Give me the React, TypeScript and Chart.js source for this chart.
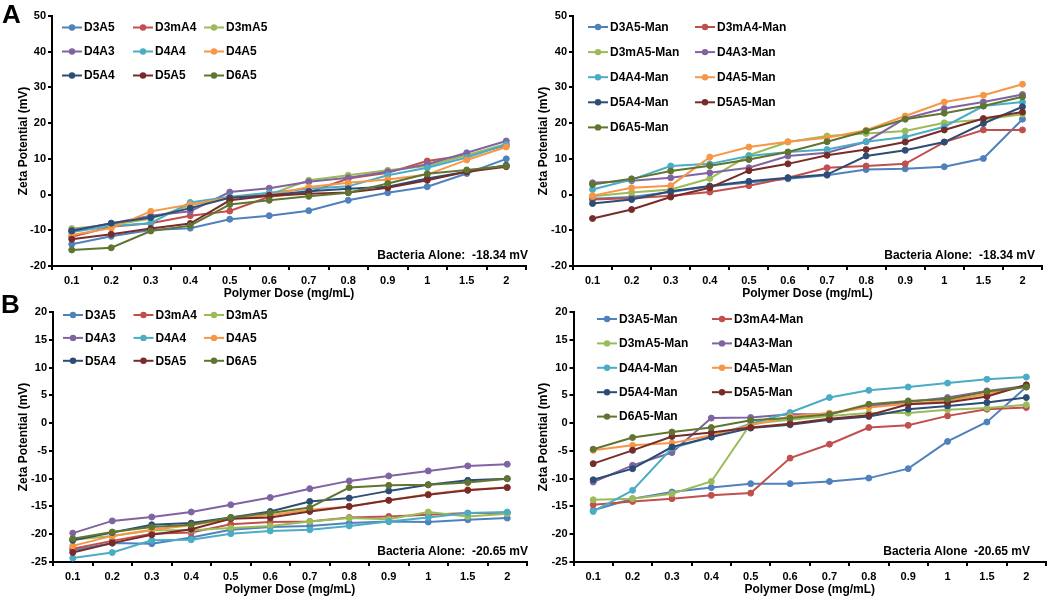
import React, { useEffect, useRef } from 'react';
import { Chart, registerables } from 'chart.js';

Chart.register(...registerables);

const FONT = "'Liberation Sans', Arial, Helvetica, sans-serif";

// X categories: polymer dose (mg/mL)
const doses = ['0.1', '0.2', '0.3', '0.4', '0.5', '0.6', '0.7', '0.8', '0.9', '1', '1.5', '2'];

// Series names
const polymerNames = ['D3A5', 'D3mA4', 'D3mA5', 'D4A3', 'D4A4', 'D4A5', 'D5A4', 'D5A5', 'D6A5'];
const manNames = ['D3A5-Man', 'D3mA4-Man', 'D3mA5-Man', 'D4A3-Man', 'D4A4-Man', 'D4A5-Man', 'D5A4-Man', 'D5A5-Man', 'D6A5-Man'];

const seriesColors = ['#4F81BD', '#C0504D', '#9BBB59', '#8064A2', '#4BACC6', '#F79646', '#2C4D75', '#772C2A', '#5F7530'];

// Y tick ranges
const yTicksA = { min: -20, max: 50, step: 10 };
const yTicksB = { min: -25, max: 20, step: 5 };

// Panel A, left: polymers alone (zeta potential, mV), rows follow polymerNames
const panelALeft = [
  [-13.9, -11.7, -9.9, -9.4, -6.9, -5.9, -4.5, -1.6, 0.5, 2.2, 5.9, 10.0],
  [-11.8, -9.0, -8.0, -5.9, -4.6, -0.6, 0.6, 4.5, 6.1, 9.4, 11.0, 13.7],
  [-9.5, -8.5, -6.8, -3.0, -0.9, 0.0, 4.0, 5.4, 6.8, 8.0, 11.0, 14.2],
  [-10.0, -8.1, -5.9, -4.7, 0.7, 1.8, 3.6, 4.7, 6.4, 8.5, 11.7, 15.0],
  [-10.5, -8.8, -8.0, -2.2, -0.6, 0.5, 1.6, 2.3, 5.4, 7.5, 10.4, 14.0],
  [-11.3, -9.4, -4.7, -2.8, -0.9, -0.1, 2.1, 3.3, 4.2, 5.6, 9.7, 13.3],
  [-10.2, -8.0, -6.4, -3.8, -0.9, -0.2, 0.9, 1.6, 2.2, 4.5, 6.4, 8.2],
  [-12.5, -11.1, -9.5, -8.1, -1.6, -0.3, 0.2, 0.6, 1.9, 4.0, 6.4, 7.8],
  [-15.5, -14.9, -10.2, -8.7, -2.8, -1.6, -0.5, 0.5, 3.1, 5.8, 6.9, 8.0],
];

// Panel A, right: mannose conjugates, rows follow manNames
const panelARight = [
  [-1.2, -0.7, 0.7, 2.3, 3.4, 4.4, 5.4, 7.0, 7.2, 7.8, 10.1, 21.1],
  [-1.4, -1.0, -0.3, 0.7, 2.5, 4.7, 7.5, 8.0, 8.6, 14.7, 18.1, 18.1],
  [-0.5, 0.6, 1.4, 4.5, 11.0, 14.7, 16.4, 17.1, 17.8, 20.1, 21.0, 22.5],
  [3.3, 3.9, 4.7, 6.1, 7.5, 10.8, 11.7, 14.8, 21.3, 24.1, 25.9, 28.0],
  [1.4, 4.2, 8.0, 8.6, 10.8, 11.9, 12.6, 14.8, 16.1, 19.0, 24.8, 25.9],
  [-0.3, 1.9, 2.5, 10.5, 13.3, 14.8, 15.9, 18.0, 22.0, 25.9, 27.8, 30.9],
  [-2.5, -1.4, 0.9, 2.4, 3.7, 4.7, 5.6, 10.8, 12.4, 14.7, 19.9, 24.6],
  [-6.7, -4.2, -0.7, 1.9, 6.7, 8.6, 11.0, 12.6, 14.7, 18.1, 21.3, 23.1],
  [2.8, 4.4, 6.6, 8.1, 9.8, 11.9, 14.8, 17.8, 21.1, 22.8, 24.8, 27.4],
];

// Panel B, left
const panelBLeft = [
  [-22.9, -21.6, -21.7, -20.6, -19.2, -18.7, -18.5, -18.0, -17.7, -17.8, -17.4, -17.1],
  [-22.6, -21.2, -19.9, -19.7, -18.2, -17.8, -17.7, -17.0, -16.8, -16.5, -16.2, -16.2],
  [-21.0, -20.3, -19.3, -19.3, -18.9, -18.5, -17.7, -17.1, -17.3, -16.0, -16.8, -16.3],
  [-19.8, -17.6, -16.9, -16.0, -14.7, -13.4, -11.8, -10.4, -9.5, -8.6, -7.7, -7.4],
  [-24.3, -23.3, -21.1, -21.0, -19.9, -19.4, -19.2, -18.5, -17.7, -17.0, -16.2, -16.0],
  [-22.1, -20.3, -19.2, -18.4, -17.2, -16.6, -15.6, -15.0, -13.9, -12.8, -12.0, -11.6],
  [-21.1, -19.7, -18.3, -18.0, -17.0, -15.9, -14.1, -13.5, -12.2, -11.1, -10.3, -10.0],
  [-23.3, -21.6, -20.1, -19.1, -17.2, -17.0, -15.9, -15.0, -13.9, -12.9, -12.1, -11.6],
  [-20.8, -19.6, -18.7, -18.3, -17.0, -16.2, -15.2, -11.6, -11.2, -11.1, -10.7, -10.0],
];

// Panel B, right
const panelBRight = [
  [-15.7, -13.6, -12.4, -11.6, -10.9, -10.9, -10.5, -9.9, -8.2, -3.3, 0.2, 6.5],
  [-14.7, -14.1, -13.6, -13.0, -12.6, -6.3, -3.8, -0.8, -0.4, 1.3, 2.5, 2.8],
  [-13.8, -13.6, -12.7, -10.5, -0.1, 0.6, 1.3, 1.8, 1.8, 2.4, 2.7, 3.3],
  [-10.6, -7.6, -5.3, 0.9, 1.0, 1.6, 1.6, 3.1, 3.8, 4.6, 5.8, 6.7],
  [-15.9, -12.1, -4.5, -2.5, -0.1, 1.9, 4.6, 5.9, 6.5, 7.2, 7.9, 8.3],
  [-4.9, -4.0, -3.6, -2.2, -0.4, 1.2, 1.8, 2.8, 3.5, 4.0, 5.3, 6.6],
  [-10.2, -8.2, -4.3, -2.5, -0.9, -0.3, 0.6, 1.2, 2.5, 3.1, 3.7, 4.6],
  [-7.3, -4.9, -2.4, -1.7, -0.8, -0.1, 0.8, 1.4, 3.4, 3.7, 4.8, 6.9],
  [-4.7, -2.6, -1.6, -0.8, 0.5, 0.9, 1.6, 3.4, 4.0, 4.3, 5.7, 6.5],
];

const noteA = 'Bacteria Alone:  -18.34 mV';
const noteBLeft = 'Bacteria Alone:  -20.65 mV';
const noteBRight = 'Bacteria Alone  -20.65 mV';

const gridLegend = {
  id: 'gridLegend',
  afterDraw(chart: any, _args: any, opts: any) {
    const { ctx } = chart;
    ctx.save();
    ctx.font = `bold 12px ${FONT}`;
    ctx.textBaseline = 'middle';
    ctx.textAlign = 'left';
    chart.data.datasets.forEach((ds: any, i: number) => {
      const x = opts.x0 + (i % opts.cols) * opts.colW;
      const y = opts.y0 + Math.floor(i / opts.cols) * opts.rowH;
      ctx.strokeStyle = ds.borderColor;
      ctx.lineWidth = 2;
      ctx.beginPath();
      ctx.moveTo(x, y);
      ctx.lineTo(x + 20, y);
      ctx.stroke();
      ctx.fillStyle = ds.borderColor;
      ctx.beginPath();
      ctx.arc(x + 10, y, 3.2, 0, Math.PI * 2);
      ctx.fill();
      ctx.fillStyle = '#000';
      ctx.fillText(ds.label, x + 22, y + 0.5);
    });
    ctx.textAlign = 'right';
    ctx.fillText(opts.note, opts.noteX, opts.noteY);
    ctx.restore();
  },
};

type PanelProps = {
  left: number;
  top: number;
  width: number;
  height: number;
  yAxisWidth: number;
  padRight: number;
  yRange: { min: number; max: number; step: number };
  names: string[];
  values: number[][];
  legend: { x0: number; y0: number; colW: number; rowH: number; cols: number };
  note: string;
  noteX: number;
  noteY: number;
};

function Panel(p: PanelProps) {
  const ref = useRef<HTMLCanvasElement | null>(null);
  useEffect(() => {
    if (!ref.current) return;
    const tickFont = { family: FONT, size: 11, weight: 'bold' as const };
    const titleFont = { family: FONT, size: 12, weight: 'bold' as const };
    const chart = new Chart(ref.current, {
      type: 'line',
      data: {
        labels: doses,
        datasets: p.names.map((n, i) => ({
          label: n,
          data: p.values[i],
          borderColor: seriesColors[i],
          backgroundColor: seriesColors[i],
          borderWidth: 2,
          pointRadius: 3,
          pointBorderWidth: 1,
          pointHoverRadius: 3,
          tension: 0,
          fill: false,
          order: p.names.length - i,
        })),
      },
      options: {
        responsive: false,
        animation: false,
        events: [],
        layout: { padding: { top: 16, right: p.padRight, bottom: 0, left: 0 } },
        plugins: {
          legend: { display: false },
          tooltip: { enabled: false },
          gridLegend: { ...p.legend, note: p.note, noteX: p.noteX, noteY: p.noteY },
        } as any,
        scales: {
          x: {
            type: 'category',
            offset: true,
            grid: { offset: true, drawOnChartArea: false, drawTicks: true, tickLength: 4, color: '#000', lineWidth: 2 },
            border: { display: true, color: '#000', width: 2 },
            ticks: { color: '#000', font: tickFont, padding: 4, maxRotation: 0, autoSkip: false },
            title: { display: true, text: 'Polymer Dose (mg/mL)', color: '#000', font: titleFont, padding: { top: 0, bottom: 1 } },
            afterFit: (s: any) => {
              s.height = 36;
            },
          },
          y: {
            type: 'linear',
            min: p.yRange.min,
            max: p.yRange.max,
            grid: { drawOnChartArea: false, drawTicks: true, tickLength: 4, color: '#000', lineWidth: 2 },
            border: { display: true, color: '#000', width: 2 },
            ticks: { stepSize: p.yRange.step, color: '#000', font: tickFont, padding: 2 },
            title: { display: true, text: 'Zeta Potential (mV)', color: '#000', font: titleFont, padding: { top: 16, bottom: 0 } },
            afterFit: (s: any) => {
              s.width = p.yAxisWidth;
            },
          },
        },
      } as any,
      plugins: [gridLegend as any],
    });
    return () => chart.destroy();
  }, []);
  return (
    <canvas
      ref={ref}
      width={p.width}
      height={p.height}
      style={{ position: 'absolute', left: p.left, top: p.top, width: p.width, height: p.height }}
    />
  );
}

const letterStyle: React.CSSProperties = {
  position: 'absolute',
  fontFamily: FONT,
  fontWeight: 'bold',
  fontSize: 26,
  lineHeight: '26px',
  color: '#000',
};

export default function App() {
  return (
    <div style={{ position: 'absolute', left: 0, top: 0, width: 1050, height: 599, background: '#fff', overflow: 'hidden' }}>
      <Panel
        left={0}
        top={0}
        width={530}
        height={302}
        yAxisWidth={52}
        padRight={2}
        yRange={yTicksA}
        names={polymerNames}
        values={panelALeft}
        legend={{ x0: 62, y0: 27.5, colW: 71, rowH: 24, cols: 3 }}
        note={noteA}
        noteX={528}
        noteY={256}
      />
      <Panel
        left={520}
        top={0}
        width={530}
        height={302}
        yAxisWidth={53}
        padRight={8}
        yRange={yTicksA}
        names={manNames}
        values={panelARight}
        legend={{ x0: 68, y0: 27, colW: 107, rowH: 25.1, cols: 2 }}
        note={noteA}
        noteX={515}
        noteY={256}
      />
      <Panel
        left={0}
        top={296}
        width={531}
        height={302}
        yAxisWidth={53}
        padRight={1}
        yRange={yTicksB}
        names={polymerNames}
        values={panelBLeft}
        legend={{ x0: 63, y0: 19, colW: 70.5, rowH: 22.9, cols: 3 }}
        note={noteBLeft}
        noteX={528}
        noteY={256}
      />
      <Panel
        left={520}
        top={296}
        width={530}
        height={302}
        yAxisWidth={53.5}
        padRight={1}
        yRange={yTicksB}
        names={manNames}
        values={panelBRight}
        legend={{ x0: 77, y0: 23, colW: 115, rowH: 24.4, cols: 2 }}
        note={noteBRight}
        noteX={510}
        noteY={256}
      />
      <div style={{ ...letterStyle, left: 2, top: 1 }}>A</div>
      <div style={{ ...letterStyle, left: 1, top: 291 }}>B</div>
    </div>
  );
}
